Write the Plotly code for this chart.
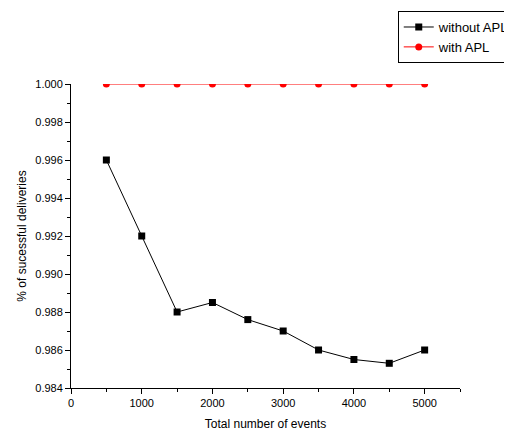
import plotly.graph_objects as go

events = [500, 1000, 1500, 2000, 2500, 3000, 3500, 4000, 4500, 5000]
without_apl = [0.996, 0.992, 0.988, 0.9885, 0.9876, 0.987, 0.986, 0.9855, 0.9853, 0.986]
with_apl = [1.0, 1.0, 1.0, 1.0, 1.0, 1.0, 1.0, 1.0, 1.0, 1.0]

fig = go.Figure()
fig.add_trace(go.Scatter(x=events, y=without_apl, mode="lines+markers", name="without APL",
                         line=dict(color="black", width=1), cliponaxis=True,
                         marker=dict(symbol="square", size=7, color="black")))
fig.add_trace(go.Scatter(x=events, y=with_apl, mode="lines+markers", name="with APL",
                         line=dict(color="red", width=1), cliponaxis=True,
                         marker=dict(symbol="circle", size=7, color="red")))

font = "Liberation Sans, Arial, sans-serif"
axis_common = dict(showline=True, linecolor="black", linewidth=1, ticks="outside",
                   ticklen=5, tickcolor="black", showgrid=False, zeroline=False,
                   mirror=False, tickfont=dict(family=font, size=11, color="black"))
fig.update_xaxes(range=[0, 5500], tick0=0, dtick=1000,
                 minor=dict(ticks="outside", ticklen=3, dtick=500, tick0=0, tickcolor="black"),
                 title=dict(text="Total number of events", font=dict(family=font, size=12, color="black"),
                            standoff=11),
                 **axis_common)
fig.update_yaxes(range=[0.984, 1.000], tick0=0.984, dtick=0.002, tickformat=".3f",
                 minor=dict(ticks="outside", ticklen=3, dtick=0.001, tick0=0.984, tickcolor="black"),
                 title=dict(text="% of sucessful deliveries", font=dict(family=font, size=12, color="black"),
                            standoff=6),
                 **axis_common)

fig.update_layout(
    width=504, height=425,
    margin=dict(l=63, r=52, t=76, b=45, autoexpand=False),
    plot_bgcolor="white", paper_bgcolor="white",
    font=dict(family=font, color="black"),
    showlegend=True,
    legend=dict(x=0.840, y=1.24, xanchor="left", yanchor="top",
                bgcolor="white", bordercolor="black", borderwidth=1,
                font=dict(family=font, size=13, color="black"),
                tracegroupgap=0, itemwidth=30),
)

fig.write_html("out.html")
